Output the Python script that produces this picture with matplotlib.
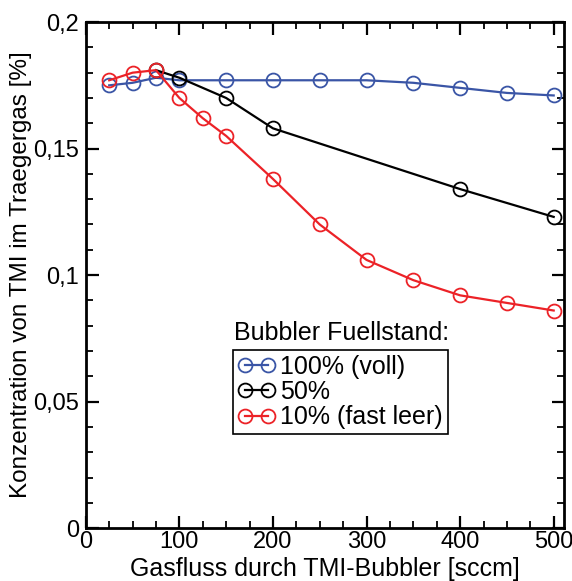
"""TMI concentration vs. gas flow for different bubbler fill levels."""

import matplotlib.pyplot as plt
from matplotlib.ticker import MultipleLocator, FuncFormatter

plt.rcParams['font.family'] = ['Liberation Sans', 'DejaVu Sans']

# data
x_voll = [25, 50, 75, 100, 150, 200, 250, 300, 350, 400, 450, 500]
y_voll = [0.175, 0.176, 0.178, 0.177, 0.177, 0.177, 0.177, 0.177, 0.176, 0.174, 0.172, 0.171]

x_halb = [75, 100, 150, 200, 400, 500]
y_halb = [0.181, 0.178, 0.170, 0.158, 0.134, 0.123]

x_leer = [25, 50, 75, 100, 125, 150, 200, 250, 300, 350, 400, 450, 500]
y_leer = [0.177, 0.180, 0.181, 0.170, 0.162, 0.155, 0.138, 0.120, 0.106, 0.098, 0.092, 0.089, 0.086]

labels = ["100% (voll)", "50%", "10% (fast leer)"]
colors = ["#3a55a6", "black", "#ec2227"]

fig = plt.figure(figsize=(5.72, 5.81), dpi=100)
ax = fig.add_axes([0.150, 0.091, 0.836, 0.871])

style = dict(marker="o", markersize=10, markerfacecolor="none",
             markeredgewidth=1.3, linewidth=1.6)
ax.plot(x_voll, y_voll, color=colors[0], label=labels[0], **style)
ax.plot(x_halb, y_halb, color=colors[1], label=labels[1], **style)
ax.plot(x_leer, y_leer, color=colors[2], label=labels[2], **style)

ax.set_xlim(0, 511)
ax.set_ylim(0, 0.2)
ax.xaxis.set_major_locator(MultipleLocator(100))
ax.xaxis.set_minor_locator(MultipleLocator(25))
ax.yaxis.set_major_locator(MultipleLocator(0.05))
ax.yaxis.set_minor_locator(MultipleLocator(0.01))
ax.yaxis.set_major_formatter(FuncFormatter(lambda v, p: f"{v:g}".replace(".", ",")))
ax.tick_params(which="both", direction="in", top=True, right=True, labelsize=17)
ax.tick_params(which="major", length=9, width=1.6, pad=2)
ax.tick_params(axis="y", which="major", pad=5)
ax.tick_params(which="minor", length=5, width=1.3)
for s in ax.spines.values():
    s.set_linewidth(2)

ax.set_xlabel("Gasfluss durch TMI-Bubbler [sccm]", fontsize=18, labelpad=3)
ax.set_ylabel("Konzentration von TMI im Traegergas [%]", fontsize=17.5, labelpad=1)

leg = ax.legend(loc="upper left", bbox_to_anchor=(0.307, 0.352), fontsize=18,
                numpoints=2, handlelength=1.5, handletextpad=0.2,
                borderpad=0.2, labelspacing=0.05, fancybox=False,
                framealpha=1, borderaxespad=0)
leg.get_frame().set_edgecolor("black")
leg.get_frame().set_linewidth(1.2)
ax.text(0.31, 0.362, "Bubbler Fuellstand:", transform=ax.transAxes,
        fontsize=18, ha="left", va="bottom")

fig.savefig("out.png", dpi=100)
